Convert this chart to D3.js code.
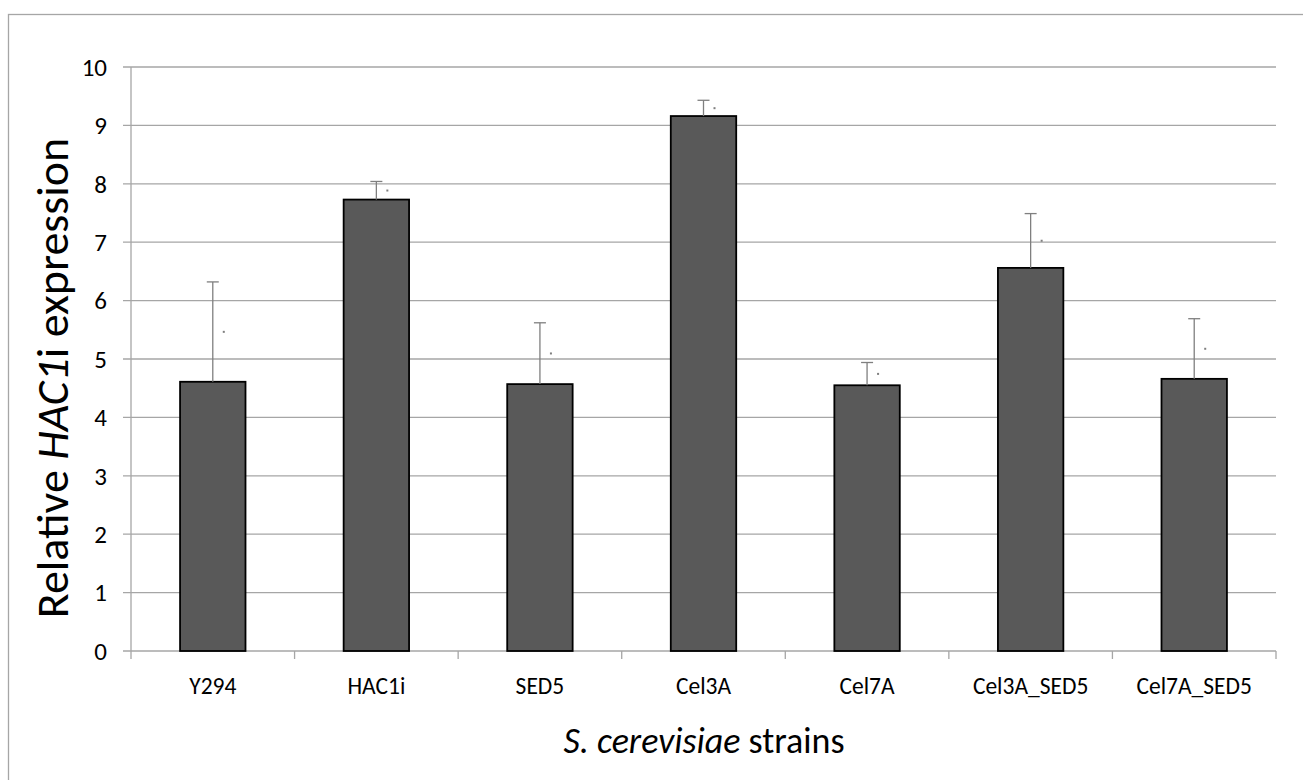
<!DOCTYPE html>
<html lang="en">
<head>
    <meta charset="UTF-8">
    <title>Relative HAC1i expression</title>
    <script src="https://d3js.org/d3.v7.min.js"></script>
    <style>
        body { margin: 0; background: #fff; }
        svg { display: block; font-family: Carlito, "Open Sans", "Noto Sans", sans-serif; }
        .grid line { stroke: #a6a6a6; stroke-width: 1.3px; }
        .bar { fill: #595959; stroke: #000; stroke-width: 1.8px; }
        .err { stroke: #7f7f7f; stroke-width: 1.3px; }
    </style>
</head>
<body>
    <div id="chart"></div>
    <script>
        // data
        const strains = ["Y294", "HAC1i", "SED5", "Cel3A", "Cel7A", "Cel3A_SED5", "Cel7A_SED5"];
        const expression = [4.61, 7.73, 4.57, 9.16, 4.55, 6.56, 4.66];
        const errorTop = [6.32, 8.04, 5.62, 9.43, 4.94, 7.49, 5.69];
        const yTicks = [0, 1, 2, 3, 4, 5, 6, 7, 8, 9, 10];

        const width = 1303, height = 780;
        const margin = { top: 67, right: 27, bottom: 129, left: 131 };

        const svg = d3.select("#chart").append("svg")
            .attr("width", width)
            .attr("height", height);

        // outer frame
        svg.append("rect")
            .attr("x", 8.5).attr("y", 14.5)
            .attr("width", width + 20).attr("height", height + 20)
            .attr("fill", "none").attr("stroke", "#a6a6a6").attr("stroke-width", 1.3);

        const x = d3.scaleBand()
            .domain(strains)
            .range([margin.left, width - margin.right])
            .paddingInner(0.6).paddingOuter(0.3);

        const y = d3.scaleLinear()
            .domain([0, 10])
            .range([height - margin.bottom, margin.top]);

        // horizontal gridlines with left ticks
        svg.append("g").attr("class", "grid")
            .selectAll("line").data(yTicks).enter().append("line")
            .attr("x1", margin.left - 8).attr("x2", width - margin.right)
            .attr("y1", d => y(d)).attr("y2", d => y(d));

        // y axis line
        svg.append("line")
            .attr("x1", margin.left).attr("x2", margin.left)
            .attr("y1", y(10)).attr("y2", y(0))
            .attr("stroke", "#a6a6a6").attr("stroke-width", 1.3);

        // y tick labels
        svg.append("g").selectAll("text").data(yTicks).enter().append("text")
            .attr("x", 107).attr("y", d => y(d))
            .attr("dy", "0.35em").attr("text-anchor", "end")
            .attr("font-size", 25).attr("fill", "#000")
            .text(d => d);

        // x axis ticks at category boundaries
        const bounds = d3.range(strains.length + 1).map(i => margin.left + i * (width - margin.right - margin.left) / strains.length);
        svg.append("g").selectAll("line").data(bounds).enter().append("line")
            .attr("x1", d => d).attr("x2", d => d)
            .attr("y1", y(0)).attr("y2", y(0) + 8)
            .attr("stroke", "#a6a6a6").attr("stroke-width", 1.3);

        // bars
        svg.append("g").selectAll("rect").data(strains).enter().append("rect")
            .attr("class", "bar")
            .attr("x", d => x(d))
            .attr("width", x.bandwidth())
            .attr("y", (d, i) => y(expression[i]))
            .attr("height", (d, i) => y(0) - y(expression[i]));

        // error bars (upper only)
        const eb = svg.append("g").selectAll("g").data(strains).enter().append("g");
        eb.append("line").attr("class", "err")
            .attr("x1", d => x(d) + x.bandwidth() / 2).attr("x2", d => x(d) + x.bandwidth() / 2)
            .attr("y1", (d, i) => y(expression[i])).attr("y2", (d, i) => y(errorTop[i]));
        eb.append("line").attr("class", "err")
            .attr("x1", d => x(d) + x.bandwidth() / 2 - 6).attr("x2", d => x(d) + x.bandwidth() / 2 + 6)
            .attr("y1", (d, i) => y(errorTop[i])).attr("y2", (d, i) => y(errorTop[i]));
        // tiny stray marks next to the error bars
        eb.append("rect")
            .attr("x", d => x(d) + x.bandwidth() / 2 + 10).attr("width", 2).attr("height", 2)
            .attr("y", (d, i) => (y(expression[i]) + y(errorTop[i])) / 2 - 1)
            .attr("fill", "#7f7f7f");

        // x tick labels
        svg.append("g").selectAll("text").data(strains).enter().append("text")
            .attr("x", d => x(d) + x.bandwidth() / 2).attr("y", 694)
            .attr("text-anchor", "middle").attr("font-size", 23.5).attr("fill", "#000")
            .text(d => d);

        // x axis title
        const xt = svg.append("text")
            .attr("x", 704).attr("y", 753)
            .attr("text-anchor", "middle").attr("font-size", 36);
        xt.append("tspan").attr("font-style", "italic").text("S. cerevisiae");
        xt.append("tspan").text(" strains");

        // y axis title
        const yt = svg.append("text")
            .attr("transform", "translate(68,378) rotate(-90)")
            .attr("text-anchor", "middle").attr("font-size", 46);
        yt.append("tspan").text("Relative ");
        yt.append("tspan").attr("font-style", "italic").text("HAC1");
        yt.append("tspan").text("i expression");
    </script>
</body>
</html>
